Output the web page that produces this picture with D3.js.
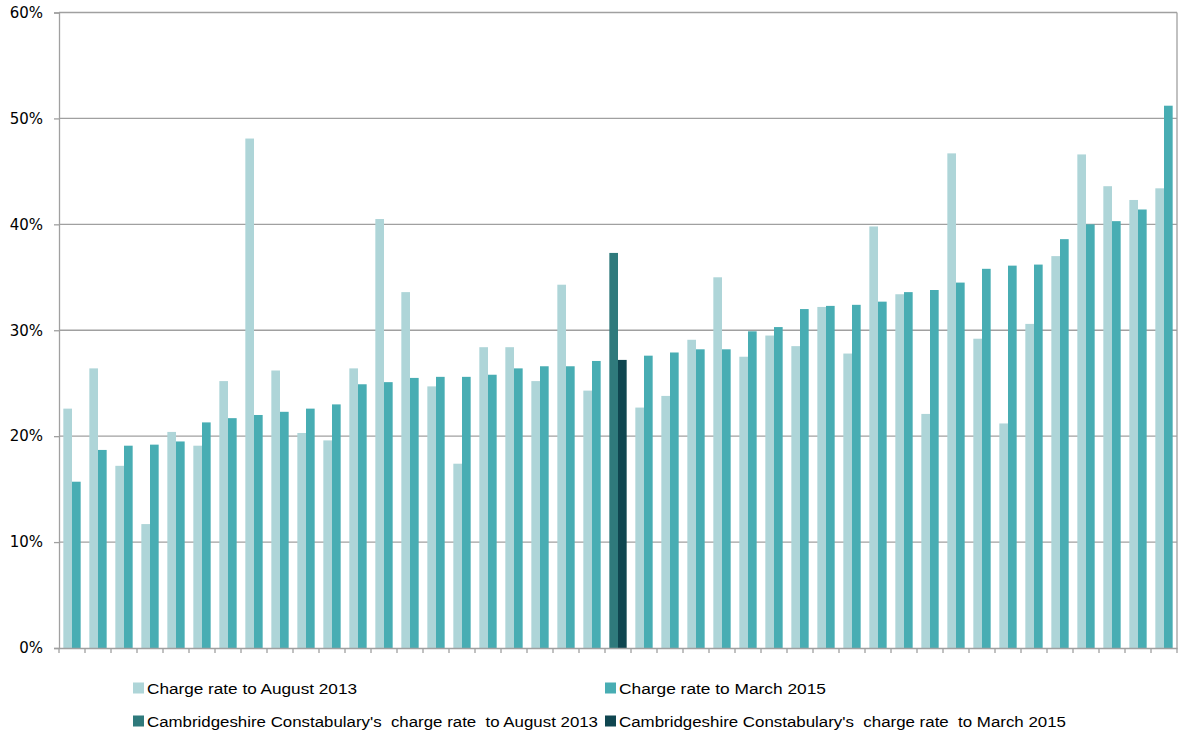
<!DOCTYPE html>
<html>
<head>
<meta charset="utf-8">
<script src="https://cdn.jsdelivr.net/npm/d3@7"></script>
<style>
  html, body { margin: 0; padding: 0; background: #ffffff; }
  svg { display: block; }
</style>
</head>
<body>
<svg id="chart" width="1178" height="732"></svg>
<script>
// Police forces, ordered by charge rate to March 2015 (force 22 is Cambridgeshire)
const forces = d3.range(1, 44).map(String);
const highlightForce = "22";

// Charge rates (%) for each force
const rateAug2013 = [22.6, 26.4, 17.2, 11.7, 20.4, 19.1, 25.2, 48.1, 26.2, 20.3, 19.6, 26.4, 40.5, 33.6, 24.7,
                     17.4, 28.4, 28.4, 25.2, 34.3, 24.3, 37.3, 22.7, 23.8, 29.1, 35.0, 27.5, 29.5, 28.5, 32.2,
                     27.8, 39.8, 33.4, 22.1, 46.7, 29.2, 21.2, 30.6, 37.0, 46.6, 43.6, 42.3, 43.4];
const rateMar2015 = [15.7, 18.7, 19.1, 19.2, 19.5, 21.3, 21.7, 22.0, 22.3, 22.6, 23.0, 24.9, 25.1, 25.5, 25.6,
                     25.6, 25.8, 26.4, 26.6, 26.6, 27.1, 27.2, 27.6, 27.9, 28.2, 28.2, 29.9, 30.3, 32.0, 32.3,
                     32.4, 32.7, 33.6, 33.8, 34.5, 35.8, 36.1, 36.2, 38.6, 40.0, 40.3, 41.4, 51.2];

const yTicks = [0, 10, 20, 30, 40, 50, 60];

const seriesKeys = ["aug", "mar"];
const legendLabels = [
  "Charge rate to August 2013",
  "Charge rate to March 2015",
  "Cambridgeshire Constabulary's  charge rate  to August 2013",
  "Cambridgeshire Constabulary's  charge rate  to March 2015"
];

const colors = {
  aug: "#aed5d8",
  mar: "#48adb3",
  augHi: "#2f7a7c",
  marHi: "#0f4650"
};

const rows = forces.map((f, i) => ({ force: f, aug: rateAug2013[i], mar: rateMar2015[i] }));

const svg = d3.select("#chart");
const plot = { left: 59, right: 1177, top: 12.5, bottom: 648 };

const x = d3.scaleBand().domain(forces).range([plot.left, plot.right]).paddingInner(0).paddingOuter(0);
const xs = d3.scaleBand().domain(seriesKeys).range([0, x.bandwidth()]).paddingInner(0).paddingOuter(0.5);
const y = d3.scaleLinear().domain([0, 60]).range([plot.bottom, plot.top]);

const gridColor = "#a0a0a0";

// Horizontal gridlines
svg.append("g")
  .selectAll("line")
  .data(yTicks.filter(t => t > 0))
  .join("line")
  .attr("x1", plot.left).attr("x2", plot.right)
  .attr("y1", d => y(d)).attr("y2", d => y(d))
  .attr("stroke", gridColor).attr("stroke-width", 1.3);

// Right border of plot area
svg.append("line")
  .attr("x1", plot.right).attr("x2", plot.right)
  .attr("y1", y(60)).attr("y2", y(0))
  .attr("stroke", gridColor).attr("stroke-width", 1.3);

// Bars
const groups = svg.append("g")
  .selectAll("g")
  .data(rows)
  .join("g")
  .attr("transform", d => `translate(${x(d.force)},0)`);

groups.selectAll("rect")
  .data(d => seriesKeys.map(k => ({ key: k, value: d[k], hi: d.force === highlightForce })))
  .join("rect")
  .attr("x", d => xs(d.key))
  .attr("width", xs.bandwidth())
  .attr("y", d => y(d.value))
  .attr("height", d => y(0) - y(d.value))
  .attr("fill", d => d.hi ? colors[d.key + "Hi"] : colors[d.key]);

// Y axis
const yAxis = d3.axisLeft(y)
  .tickValues(yTicks)
  .tickSize(5)
  .tickPadding(11)
  .tickFormat(d => d + "%");

const gy = svg.append("g")
  .attr("transform", `translate(${plot.left},0)`)
  .call(yAxis);
gy.select(".domain").attr("stroke", gridColor).attr("stroke-width", 1.3);
gy.selectAll(".tick line").attr("stroke", gridColor).attr("stroke-width", 1.3);
gy.selectAll(".tick text")
  .attr("fill", "#000")
  .style("font-family", "'DejaVu Sans', Verdana, sans-serif")
  .style("font-size", "15px");

// X axis with category boundary ticks
const xAxis = d3.axisBottom(x).tickSize(0).tickFormat("");
const gx = svg.append("g")
  .attr("transform", `translate(0,${plot.bottom})`)
  .call(xAxis);
gx.select(".domain").attr("stroke", gridColor).attr("stroke-width", 1.3);
gx.selectAll(".tick").remove();

const boundaries = forces.map(f => x(f)).concat([x(forces[forces.length - 1]) + x.bandwidth()]);
gx.selectAll("line.bound")
  .data(boundaries)
  .join("line")
  .attr("class", "bound")
  .attr("x1", d => d).attr("x2", d => d)
  .attr("y1", 0).attr("y2", 5)
  .attr("stroke", gridColor).attr("stroke-width", 1.3);

// Legend
const legendItems = [
  { label: legendLabels[0], color: colors.aug,   x: 133, y: 688, w: 210 },
  { label: legendLabels[1], color: colors.mar,   x: 605, y: 688, w: 207 },
  { label: legendLabels[2], color: colors.augHi, x: 133, y: 721, w: 451 },
  { label: legendLabels[3], color: colors.marHi, x: 605, y: 721, w: 447 }
];

const leg = svg.append("g")
  .selectAll("g")
  .data(legendItems)
  .join("g")
  .attr("transform", d => `translate(${d.x},${d.y})`);

leg.append("rect")
  .attr("x", 0).attr("y", -5.5)
  .attr("width", 11).attr("height", 11)
  .attr("fill", d => d.color);

leg.append("text")
  .attr("x", 14)
  .attr("y", 5.5)
  .attr("textLength", d => d.w)
  .attr("lengthAdjust", "spacingAndGlyphs")
  .style("font-family", "'Liberation Sans Narrow', 'Liberation Sans', Arial, sans-serif")
  .style("font-size", "15.5px")
  .style("white-space", "pre")
  .attr("fill", "#000")
  .text(d => d.label);
</script>
</body>
</html>
